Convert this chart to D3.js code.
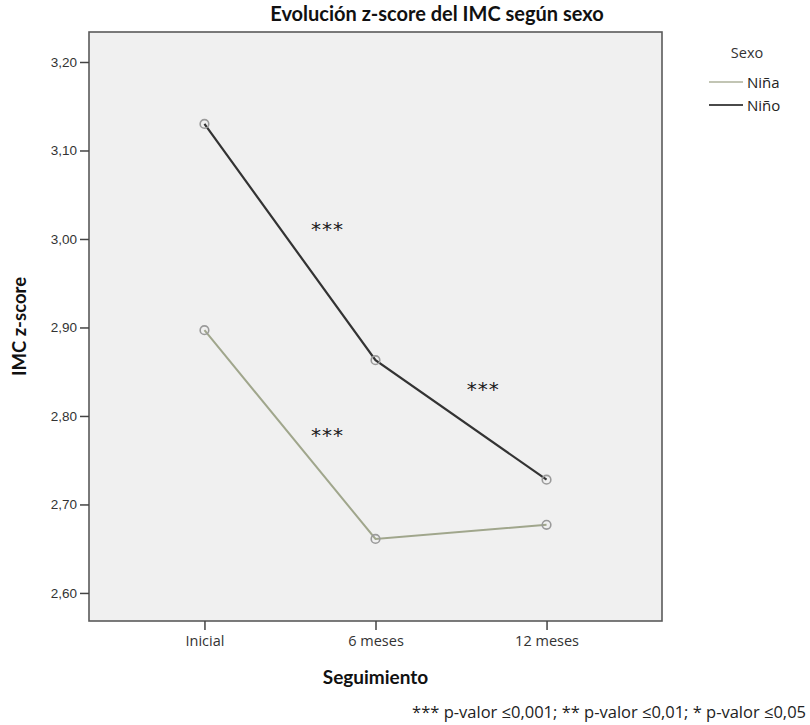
<!DOCTYPE html>
<html>
<head>
<meta charset="utf-8">
<script src="https://cdn.jsdelivr.net/npm/d3@7"></script>
<style>
  html, body { margin: 0; padding: 0; background: #ffffff; }
  svg { display: block; }
</style>
</head>
<body>
<svg id="chart" width="810" height="725"></svg>
<script>
// Follow-up time points
const categories = ["Inicial", "6 meses", "12 meses"];
// Mean BMI z-score per sex
const seriesNames = ["Niña", "Niño"];
const ninaValues = [2.897, 2.661, 2.677];
const ninoValues = [3.130, 2.863, 2.728];
// Y axis ticks
const yTicks = [2.60, 2.70, 2.80, 2.90, 3.00, 3.10, 3.20];
// Significance marks: position along the category index and value
const sigLabels = ["***", "***", "***"];
const sigIndex = [0.72, 1.63, 0.72];
const sigValue = [3.011, 2.830, 2.779];

const svg = d3.select("#chart");
const plot = { left: 89, right: 662, top: 32, bottom: 621 };

const x = d3.scalePoint()
  .domain(categories)
  .range([plot.left, plot.right])
  .padding(0.675);
const xIdx = d3.scaleLinear()
  .domain([0, categories.length - 1])
  .range([x(categories[0]), x(categories[categories.length - 1])]);
const y = d3.scaleLinear()
  .domain([2.5683, 3.2339])
  .range([plot.bottom, plot.top]);

const fmt = v => d3.format(".2f")(v).replace(".", ",");
const sans = "'Open Sans', 'DejaVu Sans', sans-serif";
const narrowBold = "Lato, 'Open Sans', sans-serif";

// Plot background and frame
svg.append("rect")
  .attr("x", plot.left).attr("y", plot.top)
  .attr("width", plot.right - plot.left)
  .attr("height", plot.bottom - plot.top)
  .attr("fill", "#f0f0f0")
  .attr("stroke", "#5a5a5a")
  .attr("stroke-width", 1.6);

// Y axis
const yAxis = d3.axisLeft(y).tickValues(yTicks).tickFormat(fmt).tickSize(9).tickPadding(3);
const gy = svg.append("g").attr("transform", `translate(${plot.left},0)`).call(yAxis);
gy.select(".domain").remove();
gy.selectAll(".tick line").attr("stroke", "#444").attr("stroke-width", 1.5);
gy.selectAll(".tick text")
  .attr("fill", "#333")
  .style("font-family", "'Liberation Sans', Arial, sans-serif")
  .style("font-size", "13.5px");

// X axis
const xAxis = d3.axisBottom(x).tickSize(9).tickPadding(6);
const gx = svg.append("g").attr("transform", `translate(0,${plot.bottom})`).call(xAxis);
gx.select(".domain").remove();
gx.selectAll(".tick line").attr("stroke", "#444").attr("stroke-width", 1.5);
gx.selectAll(".tick text")
  .attr("fill", "#333")
  .style("font-family", sans)
  .style("font-size", "14.5px");

// Lines
const line = d3.line().x((d, i) => x(categories[i])).y(d => y(d));
const series = [
  { name: seriesNames[0], values: ninaValues, color: "#a0a68c", legend: "#c2c5b4", width: 2 },
  { name: seriesNames[1], values: ninoValues, color: "#333333", legend: "#4a4a4a", width: 2.2 }
];
series.forEach(s => {
  svg.append("path")
    .datum(s.values)
    .attr("d", line)
    .attr("fill", "none")
    .attr("stroke", s.color)
    .attr("stroke-width", s.width);
});
series.forEach(s => {
  svg.append("g").selectAll("circle")
    .data(s.values)
    .join("circle")
    .attr("cx", (d, i) => x(categories[i]))
    .attr("cy", d => y(d))
    .attr("r", 4.3)
    .attr("fill", "none")
    .attr("stroke", "#9a9a9a")
    .attr("stroke-width", 1.6);
});

// Significance marks
svg.append("g").selectAll("text")
  .data(sigLabels)
  .join("text")
  .attr("x", (d, i) => xIdx(sigIndex[i]))
  .attr("y", (d, i) => y(sigValue[i]))
  .attr("text-anchor", "middle")
  .attr("dominant-baseline", "central")
  .attr("fill", "#1a1a1a")
  .style("font-family", "'DejaVu Sans', sans-serif")
  .style("font-size", "20px")
  .style("letter-spacing", "1px")
  .text(d => d);

// Title
svg.append("text")
  .attr("x", 437).attr("y", 21)
  .attr("text-anchor", "middle")
  .attr("fill", "#111")
  .style("font-family", narrowBold)
  .style("font-weight", "bold")
  .style("font-size", "20px")
  .text("Evolución z-score del IMC según sexo");

// Axis titles
svg.append("text")
  .attr("transform", `translate(26,${(plot.top + plot.bottom) / 2}) rotate(-90)`)
  .attr("text-anchor", "middle")
  .attr("fill", "#111")
  .style("font-family", narrowBold)
  .style("font-weight", "bold")
  .style("font-size", "18.5px")
  .text("IMC z-score");

svg.append("text")
  .attr("x", x(categories[1])).attr("y", 684)
  .attr("text-anchor", "middle")
  .attr("fill", "#111")
  .style("font-family", narrowBold)
  .style("font-weight", "bold")
  .style("font-size", "19px")
  .text("Seguimiento");

// Footnote
svg.append("text")
  .attr("x", 806).attr("y", 718)
  .attr("text-anchor", "end")
  .attr("fill", "#222")
  .style("font-family", sans)
  .style("font-size", "16.5px")
  .text("*** p-valor ≤0,001; ** p-valor ≤0,01; * p-valor ≤0,05");

// Legend
const lg = svg.append("g").attr("transform", "translate(709,0)");
lg.append("text")
  .attr("x", 38).attr("y", 52)
  .attr("text-anchor", "middle")
  .attr("dominant-baseline", "central")
  .attr("fill", "#333")
  .style("font-family", sans)
  .style("font-size", "14.5px")
  .text("Sexo");
series.forEach((s, i) => {
  const ly = 82 + i * 23;
  lg.append("line")
    .attr("x1", 0).attr("x2", 34)
    .attr("y1", ly).attr("y2", ly)
    .attr("stroke", s.legend).attr("stroke-width", 2);
  lg.append("text")
    .attr("x", 38).attr("y", ly)
    .attr("dominant-baseline", "central")
    .attr("fill", "#222")
    .style("font-family", sans)
    .style("font-size", "15px")
    .text(s.name);
});
</script>
</body>
</html>
